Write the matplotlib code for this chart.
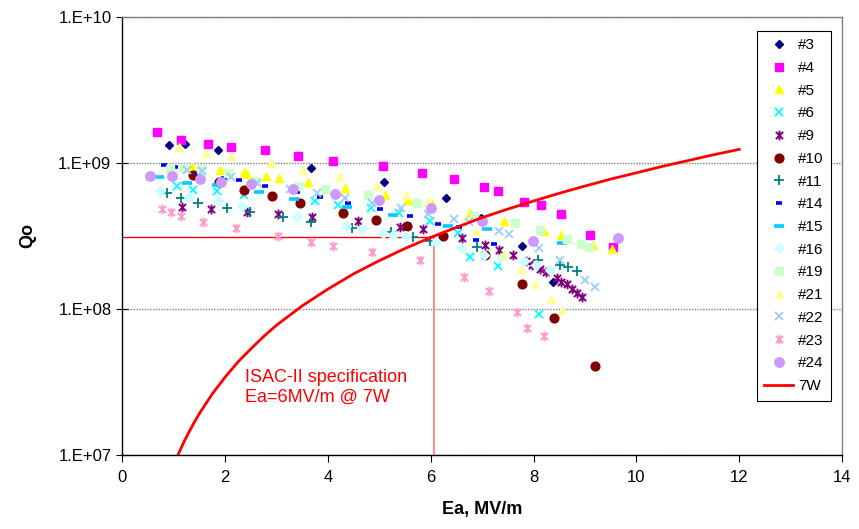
import numpy as np
import matplotlib.pyplot as plt
from matplotlib.path import Path
from matplotlib.ticker import FuncFormatter, FixedLocator, NullLocator

plt.rcParams['font.family'] = ['Liberation Sans', 'DejaVu Sans']

# measured cavities, Ea in MV/m and Qo
ea3 = [0.90, 1.22, 1.85, 3.66, 5.09, 6.29, 6.97, 7.78, 8.38]
q3 = [1.32e9, 1.34e9, 1.22e9, 9.2e8, 7.3e8, 5.7e8, 4.2e8, 2.69e8, 1.52e8]

ea4 = [0.67, 1.13, 1.67, 2.12, 2.77, 3.42, 4.10, 5.06, 5.83, 6.45, 7.04, 7.30,
       7.81, 8.14, 8.53, 9.10, 9.55]
q4 = [1.63e9, 1.43e9, 1.33e9, 1.28e9, 1.21e9, 1.10e9, 1.02e9, 9.5e8, 8.5e8,
      7.7e8, 6.8e8, 6.4e8, 5.4e8, 5.1e8, 4.46e8, 3.18e8, 2.62e8]

ea5 = [1.35, 1.90, 2.37, 2.42, 2.79, 3.04, 3.60, 4.33, 5.11, 5.56, 6.02, 6.76,
       7.43, 8.21, 8.54, 9.16, 9.52]
q5 = [9.36e8, 8.9e8, 8.6e8, 8.3e8, 8.1e8, 7.8e8, 7.4e8, 6.7e8, 6.0e8, 5.5e8,
      5.2e8, 4.5e8, 3.97e8, 3.4e8, 3.2e8, 2.72e8, 2.54e8]

ea6 = [1.07, 1.37, 1.83, 2.36, 3.75, 4.19, 4.83, 5.38, 5.99, 6.53, 6.77, 7.31, 8.11]
q6 = [6.9e8, 6.5e8, 6.35e8, 6.0e8, 5.45e8, 5.15e8, 4.85e8, 4.5e8, 4.0e8,
      3.27e8, 2.25e8, 1.96e8, 9.2e7]

ea9 = [1.16, 1.72, 2.42, 3.02, 3.69, 4.58, 5.40, 5.84, 6.60, 7.06, 7.32, 7.59,
       7.85, 7.97, 8.13, 8.24, 8.45, 8.54, 8.65, 8.75, 8.85, 8.95]
q9 = [4.98e8, 4.78e8, 4.56e8, 4.44e8, 4.25e8, 3.97e8, 3.63e8, 3.49e8, 3.04e8,
      2.71e8, 2.51e8, 2.31e8, 2.12e8, 1.99e8, 1.87e8, 1.77e8, 1.61e8, 1.53e8,
      1.47e8, 1.36e8, 1.27e8, 1.19e8]

ea10 = [1.37, 1.87, 2.36, 2.90, 3.45, 4.29, 4.94, 5.54, 6.24, 7.06, 7.78, 8.39, 9.19]
q10 = [8.2e8, 7.3e8, 6.5e8, 5.87e8, 5.3e8, 4.53e8, 4.05e8, 3.67e8, 3.15e8,
       2.33e8, 1.48e8, 8.6e7, 4.06e7]

ea11 = [0.86, 1.14, 1.46, 2.03, 2.48, 3.13, 3.66, 4.47, 5.23, 5.66, 5.99, 6.89,
        8.08, 8.51, 8.67, 8.85]
q11 = [6.15e8, 5.73e8, 5.26e8, 4.86e8, 4.6e8, 4.22e8, 3.89e8, 3.54e8, 3.34e8,
       3.1e8, 2.91e8, 2.62e8, 2.14e8, 2.0e8, 1.92e8, 1.81e8]

ea14 = [0.81, 1.02, 1.46, 1.98, 2.27, 2.77, 3.39, 3.85, 4.38, 5.01, 5.60, 6.14,
        6.54, 6.88, 7.23]
q14 = [9.6e8, 9.3e8, 8.3e8, 7.8e8, 7.55e8, 6.9e8, 6.3e8, 5.8e8, 5.3e8, 4.8e8,
       4.33e8, 3.8e8, 3.6e8, 2.94e8, 2.78e8]

ea15 = [0.71, 1.25, 1.83, 2.65, 3.34, 4.37, 5.26, 6.33, 7.10, 8.56]
q15 = [8.0e8, 7.25e8, 6.96e8, 6.3e8, 5.65e8, 4.98e8, 4.39e8, 3.66e8, 3.52e8, 2.81e8]

ea16 = [0.73, 1.30, 1.85, 2.33, 3.40, 4.34, 4.67, 5.06, 5.27, 5.52, 6.10, 6.59,
        7.04, 7.36, 7.82, 8.05, 8.31]
q16 = [6.43e8, 5.78e8, 5.44e8, 5.04e8, 4.21e8, 3.68e8, 3.49e8, 3.3e8, 3.2e8,
       3.15e8, 2.85e8, 2.58e8, 2.34e8, 2.23e8, 2.1e8, 1.99e8, 1.85e8]

ea19 = [0.92, 1.17, 1.53, 2.06, 2.59, 3.41, 3.94, 4.77, 5.74, 6.83, 7.64, 8.12,
        8.65, 8.92, 9.08]
q19 = [9.0e8, 9.2e8, 9.0e8, 8.44e8, 7.5e8, 6.94e8, 6.57e8, 5.98e8, 5.26e8,
       4.33e8, 3.87e8, 3.45e8, 3.0e8, 2.77e8, 2.64e8]

ea21 = [1.10, 1.62, 2.11, 2.89, 3.52, 4.22, 4.96, 5.52, 5.94, 6.88, 7.43, 7.75,
        8.03, 8.33, 8.55]
q21 = [1.27e9, 1.17e9, 1.11e9, 9.9e8, 8.9e8, 7.9e8, 6.9e8, 6.0e8, 5.45e8,
       3.4e8, 2.37e8, 1.86e8, 1.47e8, 1.16e8, 9.8e7]

ea22 = [1.25, 1.54, 2.12, 2.62, 3.26, 3.78, 4.33, 4.85, 5.41, 5.94, 6.45, 6.75,
        7.33, 7.52, 8.11, 8.51, 9.00, 9.20]
q22 = [8.93e8, 8.7e8, 7.96e8, 7.28e8, 6.57e8, 6.21e8, 5.74e8, 5.28e8, 4.86e8,
       4.46e8, 4.13e8, 3.9e8, 3.38e8, 3.24e8, 2.58e8, 2.14e8, 1.56e8, 1.41e8]

ea23 = [0.77, 0.94, 1.14, 1.56, 2.20, 3.02, 3.67, 4.10, 4.86, 5.79, 6.65, 7.14,
        7.68, 7.88, 8.20]
q23 = [4.78e8, 4.55e8, 4.32e8, 3.93e8, 3.56e8, 3.14e8, 2.87e8, 2.68e8, 2.42e8,
       2.15e8, 1.64e8, 1.32e8, 9.5e7, 7.4e7, 6.5e7]

ea24 = [0.54, 0.96, 1.51, 1.91, 2.51, 3.31, 4.13, 4.99, 6.00, 7.00, 7.99, 9.65]
q24 = [8.13e8, 8.13e8, 7.68e8, 7.39e8, 7.1e8, 6.55e8, 6.07e8, 5.5e8, 4.9e8,
       3.97e8, 2.92e8, 3.04e8]

# 7 W dissipated power line
ea_7w = [1.05, 1.1, 1.2, 1.3, 1.4, 1.5, 1.75, 2.0, 2.25, 2.5, 2.75, 3.0, 3.5,
         4.0, 4.5, 5.0, 5.5, 6.0, 6.5, 7.0, 7.5, 8.0, 8.5, 9.0, 9.5, 10.0,
         10.5, 11.0, 11.5, 12.0]
q_7w = [9.4e6, 1.03e7, 1.23e7, 1.44e7, 1.67e7, 1.92e7, 2.61e7, 3.4e7, 4.32e7,
        5.3e7, 6.45e7, 7.7e7, 1.045e8, 1.36e8, 1.73e8, 2.13e8, 2.58e8, 3.07e8,
        3.6e8, 4.2e8, 4.8e8, 5.45e8, 6.16e8, 6.9e8, 7.7e8, 8.5e8, 9.4e8,
        1.03e9, 1.13e9, 1.23e9]

# spec point
ea_spec = 6.06
q_spec = 3.08e8

star = Path([(-1, -1), (1, 1), (-1, 1), (1, -1), (0, -1.35), (0, 1.35)],
            [Path.MOVETO, Path.LINETO] * 3)

series = [
    ('#3', ea3, q3, 'D', '#000080', 4.5, 1),
    ('#4', ea4, q4, 's', '#FF00FF', 5.8, 1),
    ('#5', ea5, q5, '^', '#FFFF00', 6.3, 1),
    ('#6', ea6, q6, 'x', '#00FFFF', 6, 1.3),
    ('#9', ea9, q9, star, '#800080', 7, 1.4),
    ('#10', ea10, q10, 'o', '#800000', 6.3, 1),
    ('#11', ea11, q11, '+', '#008080', 7, 1.3),
    ('#14', ea14, q14, '_', '#0000FF', 4, 2.6),
    ('#15', ea15, q15, '_', '#00CCFF', 7, 2.6),
    ('#16', ea16, q16, 'D', '#CCFFFF', 5, 1),
    ('#19', ea19, q19, 's', '#CCFFCC', 6.3, 1),
    ('#21', ea21, q21, '^', '#FFFF99', 6.3, 1),
    ('#22', ea22, q22, 'x', '#99CCFF', 6, 1.3),
    ('#23', ea23, q23, star, '#FF99CC', 7, 1.4),
    ('#24', ea24, q24, 'o', '#CC99FF', 6.8, 1),
]

fig, ax = plt.subplots(figsize=(8.59, 5.29), dpi=100)
fig.subplots_adjust(left=0.1426, right=0.9802, top=0.9688, bottom=0.1408)

ax.plot([0, ea_spec], [q_spec, q_spec], color='#FF0000', lw=1, zorder=1)
ax.plot([ea_spec, ea_spec], [1e7, q_spec], color='#FF8080', lw=1.3, zorder=1)

for name, x, y, m, c, ms, mew in series:
    ax.plot(x, y, linestyle='none', marker=m, color=c, markerfacecolor=c,
            markeredgecolor=c, ms=ms, mew=mew, label=name, zorder=3)

ax.plot(ea_7w, q_7w, color='#FF0000', lw=2, label='7W', zorder=4)

ax.text(2.38, 3.85e7, 'ISAC-II specification\nEa=6MV/m @ 7W', color='#FF0000',
        fontsize=13, va='top', ha='left', linespacing=1.25)

ax.set_yscale('log')
ax.set_xlim(0, 14)
ax.set_ylim(1e7, 1e10)
ax.set_xticks(np.arange(0, 15, 2))
ax.yaxis.set_major_locator(FixedLocator([1e7, 1e8, 1e9, 1e10]))
ax.yaxis.set_minor_locator(NullLocator())
ax.yaxis.set_major_formatter(FuncFormatter(lambda v, p: '1.E+%02d' % round(np.log10(v))))

ax.yaxis.grid(True, color='#808080', linestyle=(0, (1, 1)), lw=1)
ax.set_axisbelow(True)

for s in ['left', 'bottom']:
    ax.spines[s].set_color('black')
    ax.spines[s].set_linewidth(1)
for s in ['top', 'right']:
    ax.spines[s].set_color('#808080')
    ax.spines[s].set_linewidth(1)

ax.tick_params(axis='y', direction='inout', length=8, labelsize=12, pad=4)
ax.tick_params(axis='x', direction='out', length=5, labelsize=12, pad=6)

ax.set_xlabel('Ea, MV/m', fontsize=13, fontweight='bold', labelpad=12)
ax.set_ylabel('Qo', fontsize=13, fontweight='bold', labelpad=16)

leg = ax.legend(loc='upper right', bbox_to_anchor=(0.985, 0.9676), fontsize=11,
                frameon=True, fancybox=False, edgecolor='black', framealpha=1,
                borderpad=0.5, labelspacing=0.57, handlelength=1.9,
                handletextpad=0.3, numpoints=1, borderaxespad=0)
leg.get_frame().set_linewidth(0.8)

fig.savefig('out.png', dpi=100)
